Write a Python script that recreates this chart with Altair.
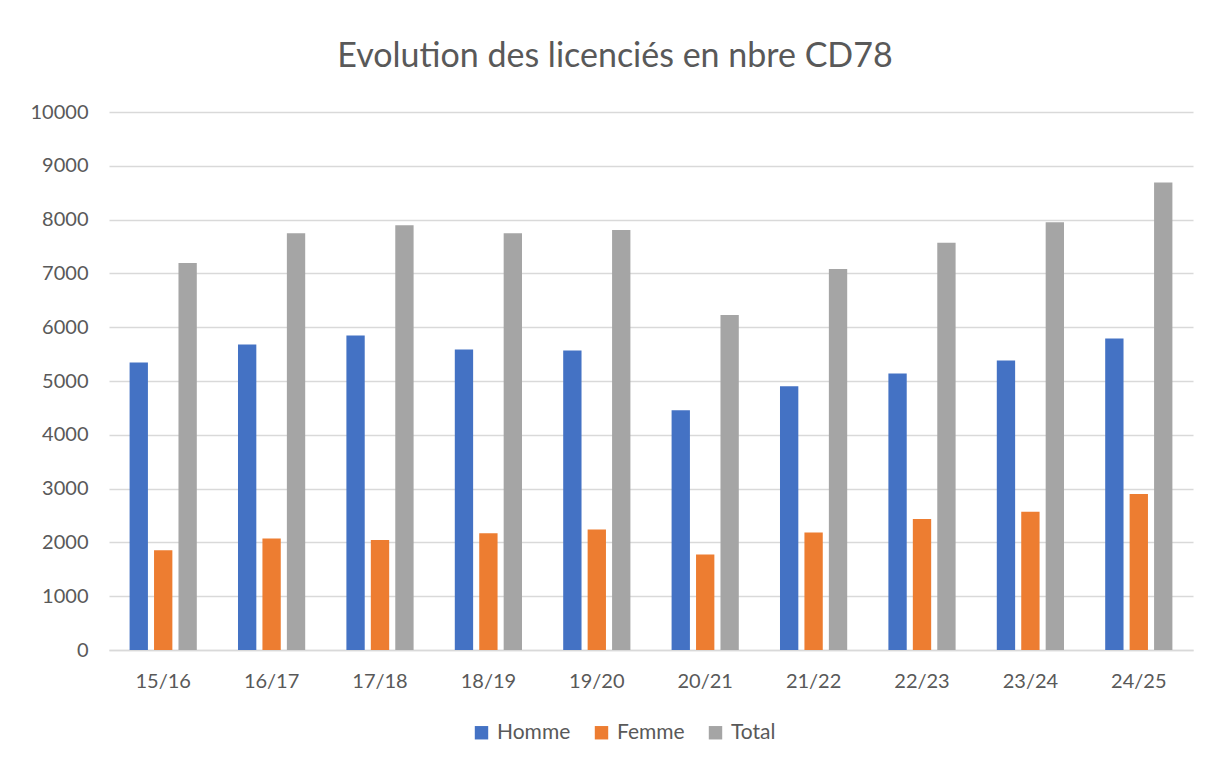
import altair as alt
import pandas as pd

saisons = ["15/16", "16/17", "17/18", "18/19", "19/20", "20/21", "21/22", "22/23", "23/24", "24/25"]
homme = [5345, 5677, 5844, 5585, 5565, 4455, 4901, 5138, 5379, 5788]
femme = [1853, 2071, 2045, 2169, 2238, 1773, 2182, 2435, 2572, 2900]
total = [7195, 7745, 7894, 7745, 7807, 6227, 7082, 7572, 7950, 8688]
series = ["Homme", "Femme", "Total"]
colors = ["#4472C4", "#ED7D31", "#A5A5A5"]

rows = []
for i, s in enumerate(saisons):
    for name, vals in zip(series, [homme, femme, total]):
        rows.append({"saison": s, "serie": name, "valeur": vals[i]})
df = pd.DataFrame(rows)

FONT = "Lato"
GREY = "#595959"

chart = alt.Chart(df).mark_bar().encode(
    x=alt.X("saison:N", sort=saisons, title=None,
            scale=alt.Scale(paddingInner=0.38, paddingOuter=0.19),
            axis=alt.Axis(labelAngle=0, labelFontSize=20, labelColor=GREY, labelFont=FONT,
                          ticks=False, domainColor="#D9D9D9", domainWidth=1.5,
                          labelPadding=21, grid=False)),
    xOffset=alt.XOffset("serie:N", sort=series, scale=alt.Scale(paddingInner=0.25)),
    y=alt.Y("valeur:Q", title=None,
            scale=alt.Scale(domain=[0, 10000]),
            axis=alt.Axis(values=list(range(0, 10001, 1000)), format="d", labelFontSize=20,
                          labelColor=GREY, labelFont=FONT, ticks=False, domain=False,
                          gridColor="#D9D9D9", gridWidth=1.5, labelPadding=21)),
    color=alt.Color("serie:N", sort=series, title=None,
                    scale=alt.Scale(domain=series, range=colors),
                    legend=alt.Legend(orient="none", legendX=362, legendY=610, direction="horizontal",
                                      symbolType="square", symbolSize=180, symbolStrokeWidth=0,
                                      labelFontSize=21, labelColor=GREY, labelFont=FONT,
                                      columnPadding=20, symbolOffset=0, labelOffset=5)),
).properties(
    width=1084,
    height=538,
    title=alt.TitleParams("Evolution des licenciés en nbre CD78", fontSize=34, font=FONT,
                          color=GREY, fontWeight="normal", anchor="middle", offset=28, dx=-36),
    autosize=alt.AutoSizeParams(type="none"),
    padding={"left": 101, "top": 104, "right": 8, "bottom": 100},
).configure_view(stroke=None)

chart.save("out.html", embed_options={"renderer": "svg", "actions": False})
